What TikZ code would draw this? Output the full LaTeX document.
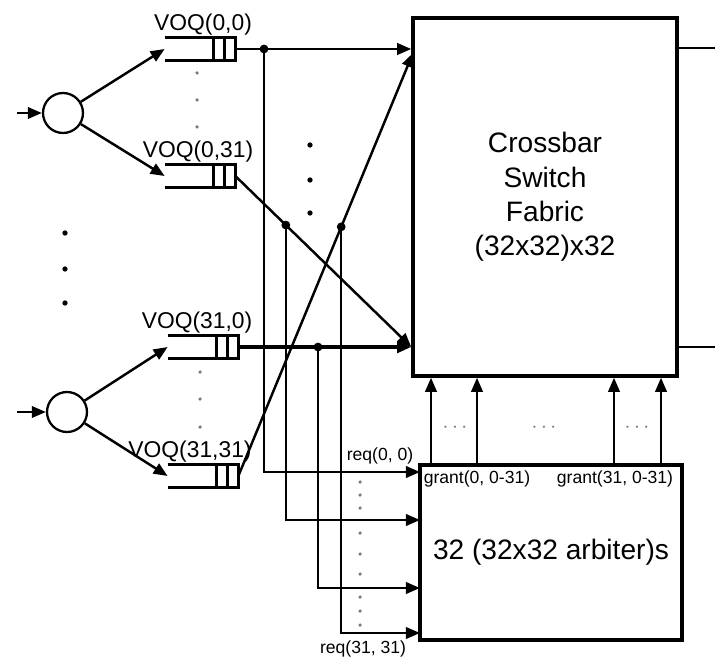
\documentclass[tikz,border=0pt]{standalone}
\usepackage{fontspec}
\setmainfont{Liberation Sans}
\usetikzlibrary{arrows.meta, positioning, calc}
\definecolor{dotgray}{RGB}{120,120,120}
\tikzset{
  box/.style    = {draw, line width=2pt, align=center, inner sep=0pt,
                   font=\fontsize{16}{19.5}\selectfont},
  queue/.style  = {minimum width=1.4cm, minimum height=0.44cm, inner sep=0pt},
  qline/.style  = {line width=1.8pt},
  wire/.style   = {line width=1.4pt},
  arrow/.style  = {-{Triangle[length=8pt, width=6.5pt]}, line width=1.4pt},
  demux/.style  = {circle, draw, line width=1.3pt, minimum size=0.8cm, inner sep=0pt},
  tap/.style    = {circle, fill, minimum size=5pt, inner sep=0pt},
  vdot/.style   = {circle, fill=dotgray, minimum size=2pt, inner sep=0pt},
  bdot/.style   = {circle, fill, minimum size=3pt, inner sep=0pt},
  qlabel/.style = {font=\fontsize{13}{15}\selectfont, inner sep=1pt},
  slabel/.style = {font=\fontsize{10}{12}\selectfont, inner sep=1pt},
}

\begin{document}
\begin{tikzpicture}[x=0.02cm, y=-0.02cm]
  \useasboundingbox (0,0) rectangle (715,658);

  % switch fabric and arbiters
  \node[box, minimum width=5.28cm, minimum height=7.16cm] (xbar) at (545,197)
       {Crossbar\\Switch\\ Fabric\\(32x32)x32};
  \node[box, minimum width=5.24cm, minimum height=3.5cm] (arb) at (551,552.5)
       {32 (32x32 arbiter)s};
  \node[slabel] (gl0) at (477,479) {grant(0, 0-31)};
  \node[slabel] (gl31) at (615,479) {grant(31, 0-31)};

  % outputs
  \coordinate (out0) at (715,48);
  \coordinate (out31) at (715,347);
  \draw[wire] (xbar.east |- out0) -- (out0);
  \draw[wire] (xbar.east |- out31) -- (out31);

  % grants
  \foreach \gx [count=\i] in {431,477,614,661} {
    \coordinate (g\i) at (\gx,465);
    \draw[arrow] (g\i) -- (g\i |- xbar.south);
  }
  \node[slabel, dotgray, font=\fontsize{13}{15}\selectfont] (gd1) at (455,428) {$\cdots$};
  \node[slabel, dotgray, font=\fontsize{13}{15}\selectfont] (gd2) at (544,428) {$\cdots$};
  \node[slabel, dotgray, font=\fontsize{13}{15}\selectfont] (gd3) at (637,428) {$\cdots$};

  % input demuxes
  \node[demux] (sw0) at (63,113) {};
  \node[demux] (sw31) at (67,412) {};
  \coordinate (in0) at (17,113);
  \coordinate (in31) at (17,412);
  \draw[arrow] (in0) -- (sw0);
  \draw[arrow] (in31) -- (sw31);
  \foreach \y in {233,269,303}
    \node[bdot] (sd\y) at (65,\y) {};

  % VOQs
  \node[queue] (q00) at (200,49) {};
  \node[queue] (q031) at (200,176) {};
  \node[queue] (q310) at (203,347) {};
  \node[queue] (q3131) at (203,476) {};
  \foreach \q in {q00, q031, q310, q3131} {
    \draw[qline] (\q.north west) -- (\q.north east) -- (\q.south east) -- (\q.south west);
    \draw[qline] ([xshift=-0.22cm]\q.north east) -- ([xshift=-0.22cm]\q.south east);
    \draw[qline] ([xshift=-0.44cm]\q.north east) -- ([xshift=-0.44cm]\q.south east);
  }
  \node[qlabel, above=0pt of q00, xshift=0.06cm] (l00) {VOQ(0,0)};
  \node[qlabel, above=0pt of q031, xshift=-0.04cm] (l031) {VOQ(0,31)};
  \node[qlabel, above=0pt of q310, xshift=-0.12cm] (l310) {VOQ(31,0)};
  \node[qlabel, above=0pt of q3131, xshift=-0.26cm] (l3131) {VOQ(31,31)};
  \foreach \y in {73,100,127}
    \node[vdot] (qa\y) at (197,\y) {};
  \foreach \y in {372,399,427}
    \node[vdot] (qb\y) at (200,\y) {};

  \draw[arrow] (sw0) -- (q00.west);
  \draw[arrow] (sw0) -- (q031.west);
  \draw[arrow] (sw31) -- (q310.west);
  \draw[arrow] (sw31) -- (q3131.west);

  % VOQ to fabric
  \coordinate (xin0) at (xbar.west |- q00.east);
  \coordinate (xin31) at (xbar.west |- q310.east);
  \coordinate (xtop) at (413,53);
  \draw[arrow] (q00.east) -- (xin0);
  \draw[arrow] (q031.east) -- (xin31) coordinate[pos=0.287] (t031);
  \draw[arrow, line width=2pt] (q310.east) -- (xin31);
  \draw[arrow] (q3131.east) -- (xtop) coordinate[pos=0.589] (t3131);
  \foreach \y in {145,180,213}
    \node[bdot] (md\y) at (310,\y) {};

  % requests
  \node[tap] (tp00) at (264,49) {};
  \node[tap] (tp031) at (t031) {};
  \node[tap] (tp310) at (318,347) {};
  \node[tap] (tp3131) at (t3131) {};
  \coordinate (r1) at (420,472);
  \coordinate (r2) at (420,520);
  \coordinate (r3) at (420,588);
  \coordinate (r4) at (420,633);
  \draw[arrow] (tp00.center) |- (r1);
  \draw[arrow] (tp031.center) |- (r2);
  \draw[arrow] (tp310.center) |- (r3);
  \draw[arrow] (tp3131.center) |- (r4);
  \node[slabel] (rl0) at (380,456) {req(0, 0)};
  \node[slabel] (rl31) at (363,649) {req(31, 31)};
  \foreach \y in {482,495,508,533,554,574,597,611,625}
    \node[vdot] (rd\y) at (360,\y) {};
\end{tikzpicture}
\end{document}
